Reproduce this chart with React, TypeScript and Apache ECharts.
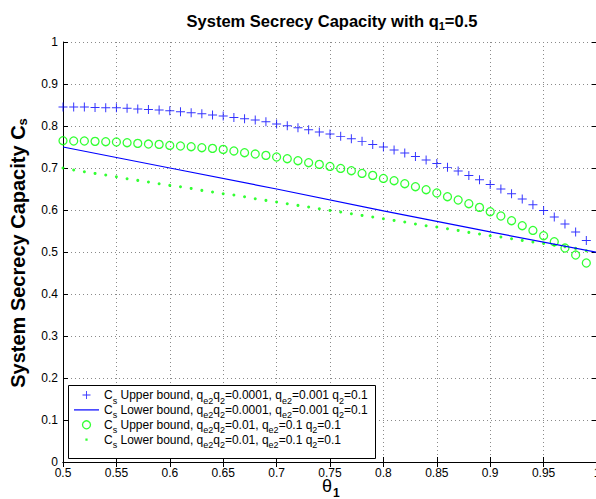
import React, { useEffect, useRef } from 'react';
import * as echarts from 'echarts';

// theta_1 sample points (x)
const thetaValues = [
  0.5, 0.51, 0.52, 0.53, 0.54, 0.55, 0.56, 0.57, 0.58, 0.59,
  0.6, 0.61, 0.62, 0.63, 0.64, 0.65, 0.66, 0.67, 0.68, 0.69,
  0.7, 0.71, 0.72, 0.73, 0.74, 0.75, 0.76, 0.77, 0.78, 0.79,
  0.8, 0.81, 0.82, 0.83, 0.84, 0.85, 0.86, 0.87, 0.88, 0.89,
  0.9, 0.91, 0.92, 0.93, 0.94, 0.95, 0.96, 0.97, 0.98, 0.99,
];

// Cs upper bound, qe2q2=0.0001 (blue +)
const upperBound1 = [
  0.845, 0.845, 0.845, 0.844, 0.8436, 0.8436, 0.842, 0.8405, 0.8395, 0.838,
  0.8364, 0.834, 0.8317, 0.829, 0.826, 0.824, 0.8205, 0.8174, 0.8143, 0.8102,
  0.8048, 0.8007, 0.796, 0.7912, 0.7857, 0.781, 0.7753, 0.7698, 0.7634, 0.7562,
  0.75, 0.743, 0.7357, 0.7276, 0.719, 0.711, 0.7015, 0.6928, 0.6824, 0.6721,
  0.661, 0.65, 0.6388, 0.626, 0.6126, 0.599, 0.5833, 0.5667, 0.5476, 0.5276,
];

// Cs lower bound, qe2q2=0.0001 (blue line)
const lowerBound1X = [0.5, 0.6, 0.7, 0.8, 0.9, 1.0];
const lowerBound1 = [0.75, 0.70, 0.65, 0.598, 0.548, 0.499];

// Cs upper bound, qe2q2=0.01 (green o)
const upperBound2 = [
  0.765, 0.7643, 0.7643, 0.7634, 0.7626, 0.7619, 0.7602, 0.7586, 0.757, 0.7562,
  0.7538, 0.7524, 0.7507, 0.7483, 0.7467, 0.7443, 0.7405, 0.7364, 0.7333, 0.73,
  0.7262, 0.7221, 0.7174, 0.7126, 0.7086, 0.7038, 0.699, 0.6936, 0.6871, 0.6824,
  0.6752, 0.6698, 0.6626, 0.6555, 0.6483, 0.6405, 0.6317, 0.6238, 0.615, 0.6062,
  0.596, 0.5857, 0.5745, 0.5626, 0.5514, 0.5388, 0.5245, 0.5095, 0.4928, 0.4738,
];

// Cs lower bound, qe2q2=0.01 (green .)
const lowerBound2 = [
  0.7, 0.6952, 0.6912, 0.6871, 0.6833, 0.6793, 0.6745, 0.6705, 0.6667, 0.6626,
  0.6586, 0.6555, 0.6514, 0.6467, 0.6429, 0.6388, 0.6357, 0.6317, 0.6269, 0.6229,
  0.619, 0.615, 0.611, 0.6071, 0.6031, 0.599, 0.5952, 0.5912, 0.5871, 0.5833,
  0.5793, 0.5752, 0.5714, 0.5667, 0.5626, 0.5595, 0.5555, 0.5514, 0.5467, 0.5429,
  0.5388, 0.5357, 0.5317, 0.5276, 0.5238, 0.5205, 0.5167, 0.5126, 0.5086, 0.503,
];

const seriesNames = ['up1', 'lo1', 'up2', 'lo2'];
const legendLabels: Record<string, string> = {
  up1: '{n|C}{s|s}{n| Upper bound, q}{s|e2}{n|q}{s|2}{n|=0.0001, q}{s|e2}{n|=0.001 q}{s|2}{n|=0.1}',
  lo1: '{n|C}{s|s}{n| Lower bound, q}{s|e2}{n|q}{s|2}{n|=0.0001, q}{s|e2}{n|=0.001 q}{s|2}{n|=0.1}',
  up2: '{n|C}{s|s}{n| Upper bound, q}{s|e2}{n|q}{s|2}{n|=0.01, q}{s|e2}{n|=0.1 q}{s|2}{n|=0.1}',
  lo2: '{n|C}{s|s}{n| Lower bound, q}{s|e2}{n|q}{s|2}{n|=0.01, q}{s|e2}{n|=0.1 q}{s|2}{n|=0.1}',
};

const FONT = 'Liberation Sans, Arial, Helvetica, sans-serif';
const PLUS = 'path://M0,4.45H10V5.55H0ZM4.45,0H5.55V10H4.45Z';
const DOT = 'path://M0,0h0.01v0.01h-0.01zM10,10h0.01v0.01h-0.01zM3.6,3.6h2.8v2.8h-2.8z';
const LINE = 'path://M0,0H25V1.2H0Z';

const fmt = (v: number) => String(parseFloat(Number(v).toFixed(2)));

export default function App() {
  const ref = useRef<HTMLDivElement>(null);
  useEffect(() => {
    document.body.style.margin = '0';
    const chart = echarts.init(ref.current!, null, { renderer: 'svg' });
    const axisLine = { show: true, lineStyle: { color: '#000', width: 1 } };
    const axisTick = { show: true, inside: true, length: 5, lineStyle: { color: '#000', width: 1 } };
    const splitLine = { show: true, lineStyle: { color: '#8a8a8a', width: 1, type: [1, 3] } };
    const axisLabel = { color: '#000', fontSize: 12, fontFamily: FONT, margin: 5, formatter: fmt, showMinLabel: true, showMaxLabel: true, interval: 0 };

    const option: any = {
      animation: false,
      backgroundColor: '#fff',
      grid: { left: 63, top: 42, width: 534, height: 420, containLabel: false, outerBoundsMode: 'none' },
      xAxis: [
        { type: 'value', min: 0.5, max: 1, interval: 0.05, position: 'bottom', axisLine, axisTick, axisLabel, splitLine },
        { type: 'value', min: 0.5, max: 1, interval: 0.05, position: 'top', axisLine, axisTick, axisLabel: { show: false }, splitLine: { show: false } },
      ],
      yAxis: [
        { type: 'value', min: 0, max: 1, interval: 0.1, position: 'left', axisLine, axisTick, axisLabel, splitLine },
        { type: 'value', min: 0, max: 1, interval: 0.1, position: 'right', axisLine, axisTick, axisLabel: { show: false }, splitLine: { show: false } },
      ],
      legend: {
        show: true,
        orient: 'vertical',
        left: 68,
        top: 388,
        padding: [0, 6, 0, 6],
        itemGap: -2.1,
        itemWidth: 25,
        itemHeight: 8,
        borderWidth: 0,
        backgroundColor: 'transparent',
        selectedMode: false,
        z: 6,
        data: [
          { name: seriesNames[0], icon: PLUS, itemStyle: { color: '#0000ff' } },
          { name: seriesNames[1], icon: LINE, itemStyle: { color: '#0000ff' } },
          { name: seriesNames[2], icon: 'circle', itemStyle: { color: 'rgba(0,0,0,0)', borderColor: '#00ff00', borderWidth: 1.3 } },
          { name: seriesNames[3], icon: DOT, itemStyle: { color: '#00ff00' } },
        ],
        formatter: (n: string) => legendLabels[n],
        textStyle: {
          color: '#000',
          fontSize: 12,
          fontFamily: FONT,
          rich: {
            n: { fontSize: 12, fontFamily: FONT, color: '#000', lineHeight: 14 },
            s: { fontSize: 9, fontFamily: FONT, color: '#000', lineHeight: 14, verticalAlign: 'top', padding: [8, 0, 0, 0] },
          },
        },
      },
      series: [
        {
          name: seriesNames[0], type: 'scatter', symbol: PLUS, symbolSize: 9,
          itemStyle: { color: '#0000ff' },
          data: thetaValues.map((x, i) => [x, upperBound1[i]]),
        },
        {
          name: seriesNames[1], type: 'line', symbol: 'none', showSymbol: false,
          lineStyle: { color: '#0000ff', width: 1.2 }, itemStyle: { color: '#0000ff' },
          data: lowerBound1X.map((x, i) => [x, lowerBound1[i]]),
        },
        {
          name: seriesNames[2], type: 'scatter', symbol: 'circle', symbolSize: 8,
          itemStyle: { color: 'rgba(0,0,0,0)', borderColor: '#00ff00', borderWidth: 1.3 },
          data: thetaValues.map((x, i) => [x, upperBound2[i]]),
        },
        {
          name: seriesNames[3], type: 'scatter', symbol: 'circle', symbolSize: 3,
          itemStyle: { color: '#00ff00' },
          data: thetaValues.map((x, i) => [x, lowerBound2[i]]),
        },
      ],
      graphic: [
        {
          type: 'rect', z: 5, silent: true,
          shape: { x: 68.5, y: 385.5, width: 307, height: 73 },
          style: { fill: '#fff', stroke: '#000', lineWidth: 1 },
        },
        {
          type: 'text', x: 332, y: 21,
          style: {
            text: '{n|System Secrecy Capacity with q}{s|1}{n|=0.5}',
            textAlign: 'center', textVerticalAlign: 'middle',
            rich: {
              n: { fontSize: 16.5, fontWeight: 'bold', fontFamily: FONT, fill: '#000', lineHeight: 20 },
              s: { fontSize: 11, fontWeight: 'bold', fontFamily: FONT, fill: '#000', lineHeight: 20, verticalAlign: 'bottom' },
            },
          },
        },
        {
          type: 'text', x: 18, y: 253, rotation: Math.PI / 2,
          style: {
            text: '{n|System Secrecy Capacity C}{s|s}',
            textAlign: 'center', textVerticalAlign: 'middle',
            rich: {
              n: { fontSize: 20, fontWeight: 'bold', fontFamily: FONT, fill: '#000', lineHeight: 22 },
              s: { fontSize: 13, fontWeight: 'bold', fontFamily: FONT, fill: '#000', lineHeight: 22, verticalAlign: 'bottom' },
            },
          },
        },
        {
          type: 'text', x: 327, y: 486,
          style: {
            text: 'θ', textAlign: 'center', textVerticalAlign: 'middle',
            fontSize: 18, fontFamily: FONT, fill: '#000',
          },
        },
        {
          type: 'text', x: 333, y: 493,
          style: {
            text: '1', textAlign: 'left', textVerticalAlign: 'middle',
            fontSize: 12, fontWeight: 'bold', fontFamily: FONT, fill: '#000',
          },
        },
      ],
    };
    chart.setOption(option);
    return () => chart.dispose();
  }, []);
  return <div ref={ref} style={{ width: 596, height: 499 }} />;
}
